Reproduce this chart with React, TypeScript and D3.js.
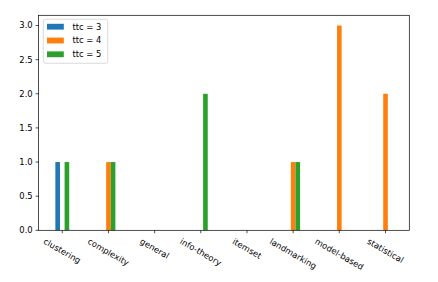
import React, { useEffect, useRef } from 'react'
import * as d3 from 'd3'

const categories = ['clustering', 'complexity', 'general', 'info-theory', 'itemset', 'landmarking', 'model-based', 'statistical']
const seriesNames = ['ttc = 3', 'ttc = 4', 'ttc = 5']
const ttc3 = [1, 0, 0, 0, 0, 0, 0, 0]
const ttc4 = [0, 1, 0, 0, 0, 1, 3, 2]
const ttc5 = [1, 1, 0, 2, 0, 1, 0, 0]
const yTicks = [0, 0.5, 1, 1.5, 2, 2.5, 3]
const colors = ['#1f77b4', '#ff7f0e', '#2ca02c']

export default function App() {
  const ref = useRef<SVGSVGElement>(null)

  useEffect(() => {
    document.body.style.margin = '0'
    const width = 438
    const height = 282
    const margin = { top: 15.3, right: 28.7, bottom: 51.7, left: 38.5 }
    const fs = 8.4
    const font = 'DejaVu Sans, sans-serif'
    const tick = 2.9
    const pad = 2.9
    const barW = 0.1

    const svg = d3.select(ref.current)
    svg.selectAll('*').remove()

    const x = d3.scaleLinear()
      .domain([-0.515, 7.515])
      .range([margin.left, width - margin.right])
    const y = d3.scaleLinear()
      .domain([0, 3.15])
      .range([height - margin.bottom, margin.top])

    const series = [ttc3, ttc4, ttc5]
    const px = x(barW) - x(0)

    series.forEach((vals, si) => {
      svg.append('g')
        .selectAll('rect')
        .data(vals)
        .join('rect')
        .attr('x', (d, i) => x(i + (si - 1) * barW) - px / 2)
        .attr('width', px)
        .attr('y', d => y(d))
        .attr('height', d => y(0) - y(d))
        .attr('fill', colors[si])
    })

    // axes frame
    const x0 = x.range()[0], x1 = x.range()[1]
    const y0 = y.range()[0], y1 = y.range()[1]
    svg.append('rect')
      .attr('x', x0).attr('y', y1)
      .attr('width', x1 - x0).attr('height', y0 - y1)
      .attr('fill', 'none').attr('stroke', '#000').attr('stroke-width', 0.7)

    // y ticks
    const yg = svg.append('g')
    yTicks.forEach(t => {
      yg.append('line')
        .attr('x1', x0 - tick).attr('x2', x0)
        .attr('y1', y(t)).attr('y2', y(t))
        .attr('stroke', '#000').attr('stroke-width', 0.7)
      yg.append('text')
        .attr('x', x0 - tick - pad)
        .attr('y', y(t))
        .attr('dy', '0.35em')
        .attr('text-anchor', 'end')
        .attr('font-family', font)
        .attr('font-size', fs)
        .text(d3.format('.1f')(t))
    })

    // x ticks, rotated labels
    const xg = svg.append('g')
    categories.forEach((c, i) => {
      xg.append('line')
        .attr('x1', x(i)).attr('x2', x(i))
        .attr('y1', y0).attr('y2', y0 + tick)
        .attr('stroke', '#000').attr('stroke-width', 0.7)
      const g = xg.append('g')
      const t = g.append('text')
        .attr('text-anchor', 'middle')
        .attr('font-family', font)
        .attr('font-size', fs)
        .text(c)
      const bb = (t.node() as SVGTextElement).getBBox()
      const rotH = bb.width * 0.5 + bb.height * 0.866
      t.attr('y', -(bb.y + bb.height / 2))
      const top = y0 + tick + pad
      g.attr('transform', `translate(${x(i)},${top + rotH / 2}) rotate(30)`)
    })

    // legend
    const lg = svg.append('g')
    lg.append('rect')
      .attr('x', 43.3).attr('y', 19.3)
      .attr('width', 64.4).attr('height', 44)
      .attr('rx', 2).attr('fill', '#fff').attr('fill-opacity', 0.8)
      .attr('stroke', '#cccccc').attr('stroke-width', 0.7)
    seriesNames.forEach((s, i) => {
      const cy = 26.7 + i * 13.8
      lg.append('rect')
        .attr('x', 47).attr('y', cy - 2.9)
        .attr('width', 16.8).attr('height', 5.8)
        .attr('fill', colors[i])
      lg.append('text')
        .attr('x', 72.5).attr('y', cy)
        .attr('dy', '0.35em')
        .attr('font-family', font)
        .attr('font-size', fs)
        .text(s)
    })
  }, [])

  return <svg ref={ref} width={438} height={282} style={{ display: 'block', background: '#fff' }} />
}
